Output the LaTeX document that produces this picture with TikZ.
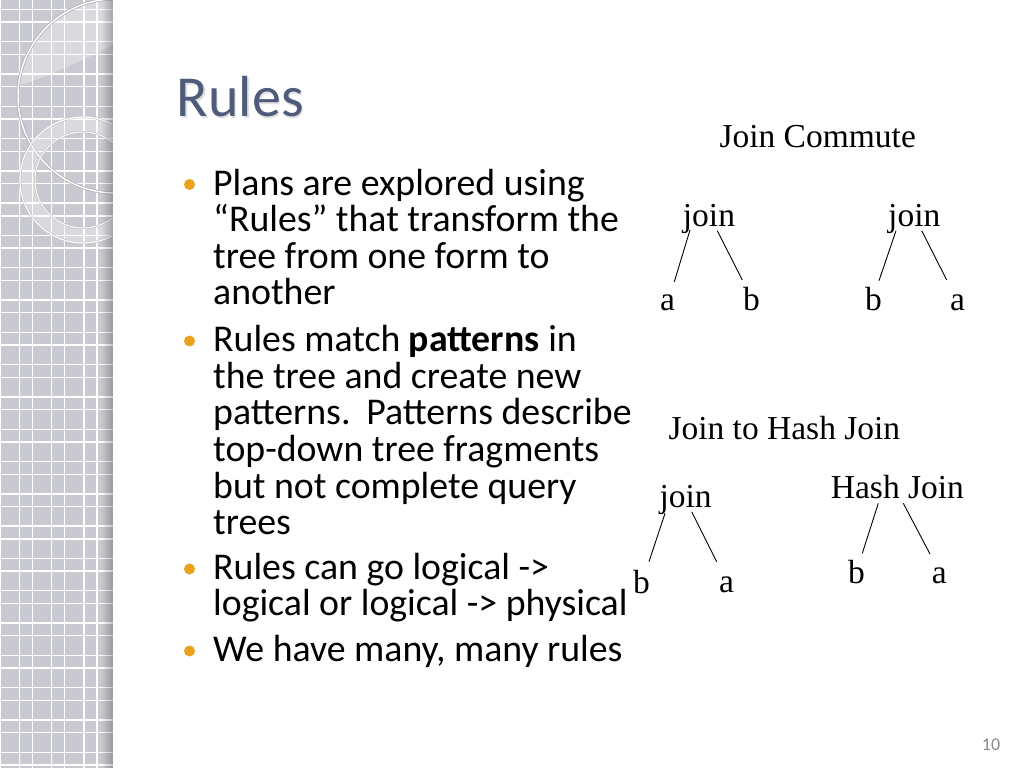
\documentclass[tikz,border=0pt]{standalone}
\usepackage{fontspec}
\setmainfont{Carlito}
\newfontfamily\tnr{Liberation Serif}
\definecolor{stripgrey}{RGB}{201,201,209}
\definecolor{titleblue}{RGB}{79,91,123}
\definecolor{bulletorange}{RGB}{233,162,26}
\definecolor{pagegrey}{RGB}{140,140,140}
\begin{document}
\begin{tikzpicture}[x=1pt,y=-1pt,
  body/.style={anchor=base west, inner sep=0pt, font=\fontsize{37.8}{40}\selectfont, text=black},
  treetext/.style={anchor=base west, inner sep=0pt, font=\tnr\fontsize{33.5}{36}\selectfont, text=black},
  bul/.style={fill=bulletorange, draw=none},
  branch/.style={draw=black, line width=0.9pt},
  gridline/.style={draw=white, line width=1.4pt}]
\useasboundingbox (0,0) rectangle (1024,768);
\fill[white] (0,0) rectangle (1024,768);
% left decorative strip
\fill[stripgrey] (0,0) rectangle (113,768);
\foreach \k in {0,...,3} {
  \draw[gridline] ({32.3*\k},0) -- ({32.3*\k},768);
  \draw[gridline] ({19.3+32.3*\k},0) -- ({19.3+32.3*\k},768);
}
\foreach \k in {0,...,23} {
  \draw[gridline] (0,{9.3+32.3*\k}) -- (113,{9.3+32.3*\k});
  \draw[gridline] (0,{22+32.3*\k}) -- (113,{22+32.3*\k});
}
\begin{scope}
  \clip (0,0) rectangle (113,768);
  % lighter upper part of the big circle
  \begin{scope}
    \clip (115,96) circle (97);
    \fill[white, opacity=0.3] (0,0) -- (0,92) .. controls (40,80) and (80,62) .. (113,45) -- (113,0) -- cycle;
  \end{scope}
  \draw[black!30, line width=3pt] (115,96) circle (97);
  \draw[white, line width=1.4pt] (115,96) circle (97);
  % ring
  \fill[white, opacity=0.3, even odd rule] (83,180) circle (63) (83,180) circle (48);
  \draw[black!25, line width=2.2pt] (83,180) circle (63);
  \draw[white, line width=1.2pt] (83,180) circle (63);
  \draw[black!25, line width=2pt] (83,180) circle (48);
  \draw[white, line width=1pt] (83,180) circle (48);
\end{scope}
% shadow at right edge of strip
\foreach \i in {0,...,11} {
  \fill[black, opacity={0.02*\i}] ({101+\i},0) rectangle ({102+\i},768);
}
% title
\node[anchor=base west, inner sep=0pt, font=\fontsize{58}{60}\selectfont, text=black!12] (titleshadow) at (178.2,118.7) {Rules};
\node[anchor=base west, inner sep=0pt, font=\fontsize{58}{60}\selectfont, text=titleblue] (title) at (176.7,116.7) {Rules};
% bullets
\fill[bul] (189.5,184.5) circle (5.5);
\fill[bul] (189.5,341) circle (5.5);
\fill[bul] (189.5,569) circle (5.5);
\fill[bul] (189.5,651) circle (5.5);
% body text
\node[body] (l1) at (213,195) {Plans are explored using};
\node[body] (l2) at (213,231.5) {“Rules” that transform the};
\node[body] (l3) at (213,268) {tree from one form to};
\node[body] (l4) at (213,304.7) {another};
\node[body] (l5) at (213,351.3) {Rules match \textbf{patterns} in};
\node[body] (l6) at (213,388) {the tree and create new};
\node[body] (l7) at (213,424.7) {patterns.\hspace{0.42em}Patterns describe};
\node[body] (l8) at (213,461.3) {top-down tree fragments};
\node[body] (l9) at (213,498) {but not complete query};
\node[body] (l10) at (213,534.7) {trees};
\node[body] (l11) at (213,579) {Rules can go logical ->};
\node[body] (l12) at (213,615.5) {logical or logical -> physical};
\node[body] (l13) at (213,661) {We have many, many rules};
% Join Commute
\node[treetext] (jc) at (719.3,147.3) {Join Commute};
\node[treetext] (j1) at (682.7,226.7) {join};
\node[treetext] (a1) at (660,310) {a};
\node[treetext] (b1) at (743,310) {b};
\draw[branch] ([shift={(7.3,3.3)}]j1.base west) -- ([shift={(14.3,-28.3)}]a1.base west);
\draw[branch] ([shift={(34.6,4)}]j1.base west) -- ([shift={(-0.7,-30)}]b1.base west);
\node[treetext] (j2) at (888,226.7) {join};
\node[treetext] (b2) at (865,310) {b};
\node[treetext] (a2) at (950,310) {a};
\draw[branch] ([shift={(8,4)}]j2.base west) -- ([shift={(14,-29.3)}]b2.base west);
\draw[branch] ([shift={(33.7,4)}]j2.base west) -- ([shift={(-3.3,-30)}]a2.base west);
% Join to Hash Join
\node[treetext] (jh) at (668.3,439.3) {Join to Hash Join};
\node[treetext] (j3) at (659.3,507.5) {join};
\node[treetext] (b3) at (633,593.3) {b};
\node[treetext] (a3) at (719,592.7) {a};
\draw[branch] ([shift={(5.7,5.8)}]j3.base west) -- ([shift={(16,-31.6)}]b3.base west);
\draw[branch] ([shift={(32.4,4.2)}]j3.base west) -- ([shift={(-2.3,-31)}]a3.base west);
\node[treetext] (hj) at (830.7,498.3) {Hash Join};
\node[treetext] (b4) at (848,583.3) {b};
\node[treetext] (a4) at (931.7,583.3) {a};
\draw[branch] ([shift={(47.6,5)}]hj.base west) -- ([shift={(14.3,-30)}]b4.base west);
\draw[branch] ([shift={(72.6,5)}]hj.base west) -- ([shift={(-1.7,-29.3)}]a4.base west);
% page number
\node[anchor=base west, inner sep=0pt, font=\fontsize{18}{20}\selectfont, text=pagegrey] (pnum) at (981.7,750.7) {10};
\end{tikzpicture}
\end{document}
